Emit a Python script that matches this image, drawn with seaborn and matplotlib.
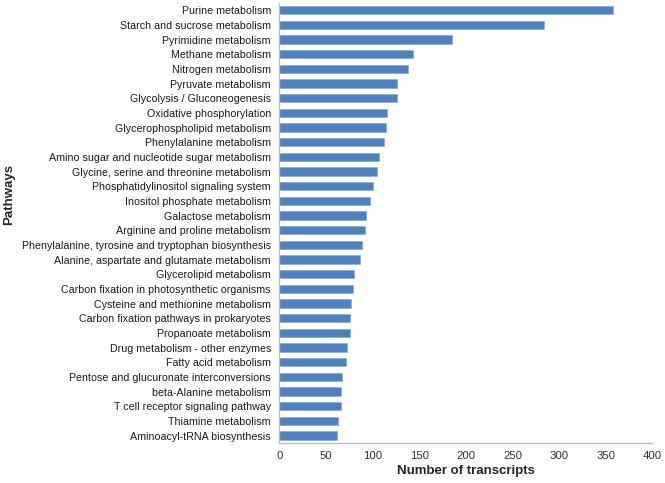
import pandas as pd
import matplotlib
matplotlib.use("Agg")
import matplotlib.pyplot as plt
import seaborn as sns

pathways = [
    "Purine metabolism",
    "Starch and sucrose metabolism",
    "Pyrimidine metabolism",
    "Methane metabolism",
    "Nitrogen metabolism",
    "Pyruvate metabolism",
    "Glycolysis / Gluconeogenesis",
    "Oxidative phosphorylation",
    "Glycerophospholipid metabolism",
    "Phenylalanine metabolism",
    "Amino sugar and nucleotide sugar metabolism",
    "Glycine, serine and threonine metabolism",
    "Phosphatidylinositol signaling system",
    "Inositol phosphate metabolism",
    "Galactose metabolism",
    "Arginine and proline metabolism",
    "Phenylalanine, tyrosine and tryptophan biosynthesis",
    "Alanine, aspartate and glutamate metabolism",
    "Glycerolipid metabolism",
    "Carbon fixation in photosynthetic organisms",
    "Cysteine and methionine metabolism",
    "Carbon fixation pathways in prokaryotes",
    "Propanoate metabolism",
    "Drug metabolism - other enzymes",
    "Fatty acid metabolism",
    "Pentose and glucuronate interconversions",
    "beta-Alanine metabolism",
    "T cell receptor signaling pathway",
    "Thiamine metabolism",
    "Aminoacyl-tRNA biosynthesis",
]
transcripts = [358, 284, 185, 143, 138, 126, 126, 116, 114, 112,
               107, 105, 100, 97, 93, 92, 89, 87, 80, 79,
               77, 76, 76, 73, 72, 67, 66, 66, 63, 62]
x_ticks = [0, 50, 100, 150, 200, 250, 300, 350, 400]

sns.set_style("white")
plt.rcParams["font.family"] = ["Liberation Sans", "DejaVu Sans"]

df = pd.DataFrame({"Pathways": pathways, "Number of transcripts": transcripts})

fig = plt.figure(figsize=(6.65, 4.83), dpi=100)
ax = fig.add_axes([0.42, 0.083, 0.561, 0.911])

sns.barplot(data=df, x="Number of transcripts", y="Pathways", orient="h",
            color="#4F81BD", saturation=1, width=0.58,
            edgecolor="#7EA3D1", linewidth=0.4, ax=ax)

ax.set_xlim(0, 400)
ax.set_xticks(x_ticks)
ax.set_xticklabels([str(t) for t in x_ticks])
ax.tick_params(axis="y", length=0, labelsize=7.7, colors="#1a1a1a", pad=6)
ax.tick_params(axis="x", length=0, labelsize=8.2, colors="#333333", pad=6)

for side in ["top", "right"]:
    ax.spines[side].set_visible(False)
for side in ["left", "bottom"]:
    ax.spines[side].set_color("#BFBFBF")
    ax.spines[side].set_linewidth(1.0)

ax.set_ylabel("")
ax.set_xlabel("Number of transcripts", fontsize=9.5, fontweight="bold", labelpad=3)
fig.text(0.013, 0.598, "Pathways", rotation=90, fontsize=9.5, fontweight="bold",
         ha="center", va="center")

fig.savefig("out.png", dpi=100)
